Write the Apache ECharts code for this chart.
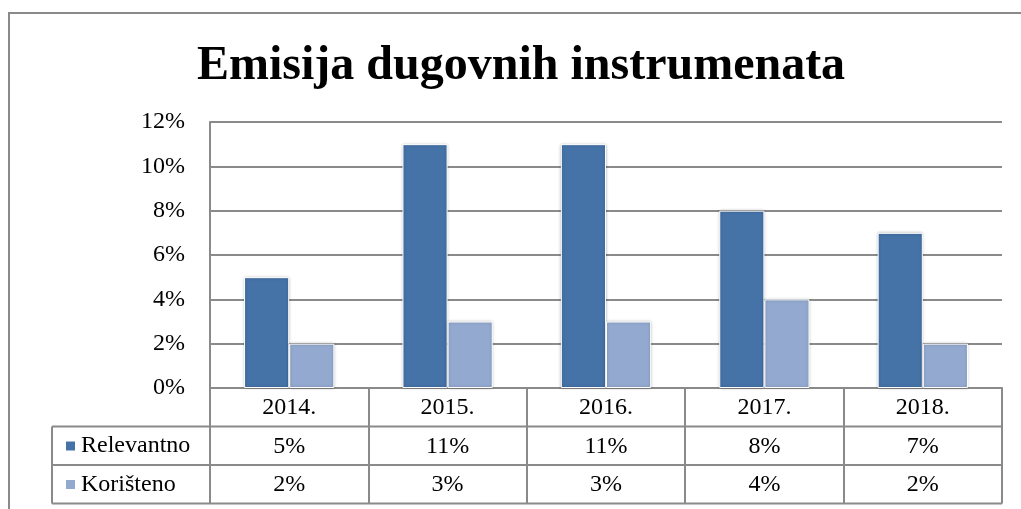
<!DOCTYPE html>
<html>
<head>
<meta charset="utf-8">
<script src="https://cdn.jsdelivr.net/npm/echarts@6/dist/echarts.min.js"></script>
<style>
  html, body { margin: 0; padding: 0; background: #fff; }
  #container { width: 1021px; height: 509px; }
</style>
</head>
<body>
<div id="container"></div>
<script>
var dom = document.getElementById('container');
var myChart = echarts.init(dom, null, { renderer: 'canvas' });

var years = ['2014.', '2015.', '2016.', '2017.', '2018.'];
var relevantno = [5, 11, 11, 8, 7];
var koristeno = [2, 3, 3, 4, 2];
var seriesNames = ['Relevantno', 'Korišteno'];

var font = 'Liberation Serif';
var lineColor = '#8a8a8a';
var rowH = 38.5;

function pct(arr) {
    return arr.map(function (v) { return v + '%'; });
}

var labelStyle = { color: '#000', fontFamily: font, fontSize: 24, lineHeight: 24, margin: 8, interval: 0 };

function tableAxis(data, offset) {
    return {
        type: 'category',
        data: data,
        position: 'bottom',
        offset: offset,
        axisLine: { show: false },
        axisTick: { show: false },
        axisLabel: labelStyle
    };
}

var barStyle = {
    borderColor: '#ffffff',
    borderWidth: 1,
    shadowBlur: 3,
    shadowColor: 'rgba(0,0,0,0.25)'
};

var option = {
    animation: false,
    title: {
        text: 'Emisija dugovnih instrumenata',
        left: 197,
        top: 43,
        padding: 0,
        textStyle: { fontFamily: font, fontSize: 48, fontWeight: 'bold', color: '#000' }
    },
    legend: {
        orient: 'vertical',
        left: 64,
        top: 434,
        padding: 0,
        itemGap: 14.5,
        icon: 'rect',
        itemWidth: 11,
        itemHeight: 11,
        textStyle: { fontFamily: font, fontSize: 24, lineHeight: 24, color: '#000' },
        data: seriesNames,
        selectedMode: false
    },
    grid: { left: 210, right: 19, top: 122, bottom: 121 },
    xAxis: [
        {
            type: 'category',
            data: years,
            axisLine: { show: true, lineStyle: { color: lineColor, width: 2 } },
            axisTick: { show: true, interval: 0, length: rowH * 3, lineStyle: { color: lineColor, width: 2 } },
            axisLabel: labelStyle
        },
        tableAxis(pct(relevantno), rowH),
        tableAxis(pct(koristeno), rowH * 2)
    ],
    yAxis: {
        type: 'value',
        min: 0,
        max: 12,
        interval: 2,
        axisLine: { show: true, lineStyle: { color: lineColor, width: 2 } },
        axisTick: { show: false },
        splitLine: { lineStyle: { color: lineColor, width: 2 } },
        axisLabel: { formatter: '{value}%', color: '#000', fontFamily: font, fontSize: 24, margin: 25 }
    },
    series: [
        {
            name: seriesNames[0],
            type: 'bar',
            data: relevantno,
            barGap: '0%',
            barCategoryGap: '43%',
            itemStyle: Object.assign({ color: '#4572a7' }, barStyle)
        },
        {
            name: seriesNames[1],
            type: 'bar',
            data: koristeno,
            itemStyle: Object.assign({ color: '#93a9cf' }, barStyle)
        }
    ]
};

myChart.setOption(option);

// table lines and outer frame
var x0 = myChart.convertToPixel({ xAxisIndex: 0 }, years[0]);
var catW = myChart.convertToPixel({ xAxisIndex: 0 }, years[1]) - x0;
var gridLeft = x0 - catW / 2;
var gridRight = gridLeft + catW * years.length;
var baseY = myChart.convertToPixel({ yAxisIndex: 0 }, 0);
var tableLeft = 52;
var lines = [];
[1, 2, 3].forEach(function (i) {
    lines.push({
        type: 'line',
        shape: { x1: tableLeft, y1: baseY + rowH * i, x2: gridRight, y2: baseY + rowH * i },
        style: { stroke: lineColor, lineWidth: 2 }
    });
});
lines.push({
    type: 'line',
    shape: { x1: tableLeft, y1: baseY + rowH, x2: tableLeft, y2: baseY + rowH * 3 },
    style: { stroke: lineColor, lineWidth: 2 }
});
lines.push({
    type: 'rect',
    shape: { x: 9, y: 13, width: 1040, height: 530 },
    style: { fill: 'none', stroke: lineColor, lineWidth: 2 }
});
myChart.setOption({ graphic: lines });
</script>
</body>
</html>
